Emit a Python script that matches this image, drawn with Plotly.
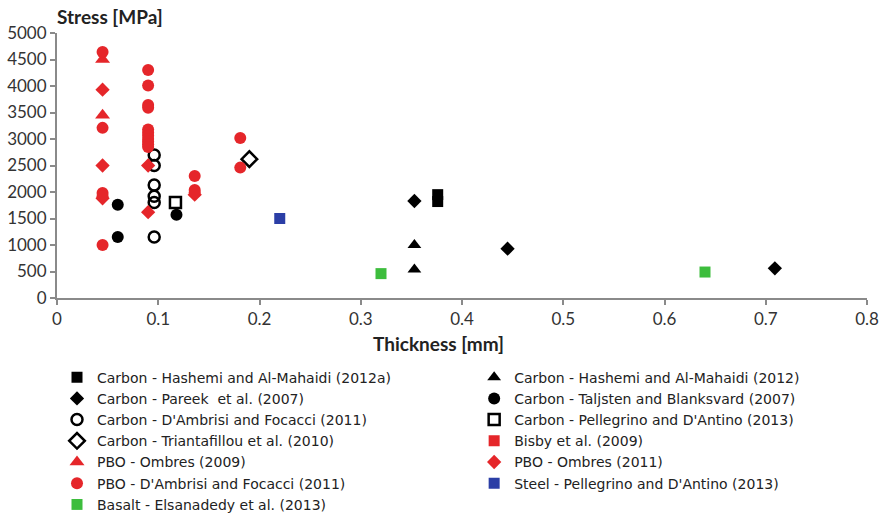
import plotly.graph_objects as go

# ---- data (thickness [mm], stress [MPa]) ----
hashemi12a_x = [0.376, 0.376]
hashemi12a_y = [1950, 1820]

hashemi12_x = [0.353, 0.353]
hashemi12_y = [1000, 540]

pareek_x = [0.353, 0.445, 0.709]
pareek_y = [1830, 930, 560]

taljsten_x = [0.060, 0.060, 0.118]
taljsten_y = [1760, 1150, 1570]

dambrisi_c_x = [0.096, 0.096, 0.096, 0.096, 0.096, 0.096]
dambrisi_c_y = [2700, 2500, 2130, 1920, 1800, 1150]

pellegrino_c_x = [0.117]
pellegrino_c_y = [1800]

triantafillou_x = [0.190]
triantafillou_y = [2620]

bisby_x = []
bisby_y = []

ombres09_x = [0.045, 0.045]
ombres09_y = [4500, 3450]

ombres11_x = [0.045, 0.045, 0.045, 0.090, 0.090, 0.136]
ombres11_y = [3930, 2500, 1880, 2500, 1620, 1950]

dambrisi_p_x = [0.045, 0.045, 0.045, 0.045, 0.045,
                0.090, 0.090, 0.090, 0.090, 0.090, 0.090, 0.090, 0.090, 0.090, 0.090, 0.090,
                0.136, 0.136, 0.136, 0.181, 0.181]
dambrisi_p_y = [4640, 3210, 1980, 1920, 1000,
                4300, 4010, 3640, 3590, 3180, 3120, 3060, 3000, 2950, 2900, 2850,
                2300, 2040, 1990, 3020, 2460]

steel_x = [0.220]
steel_y = [1500]

basalt_x = [0.320, 0.640]
basalt_y = [460, 490]

RED = "#e5262a"
BLACK = "#000000"
BLUE = "#2b3ea6"
GREEN = "#3dbd3d"

series = [
    # name, x, y, symbol, color, size, legend
    ("Carbon - Hashemi and Al-Mahaidi (2012a)", hashemi12a_x, hashemi12a_y, "square", BLACK, 11, "legend"),
    ("Carbon - Hashemi and Al-Mahaidi (2012)", hashemi12_x, hashemi12_y, "triangle-up", BLACK, 12, "legend2"),
    ("Carbon - Pareek  et al. (2007)", pareek_x, pareek_y, "diamond", BLACK, 11, "legend"),
    ("Carbon - Taljsten and Blanksvard (2007)", taljsten_x, taljsten_y, "circle", BLACK, 12, "legend2"),
    ("Carbon - D'Ambrisi and Focacci (2011)", dambrisi_c_x, dambrisi_c_y, "circle-open", BLACK, 11, "legend"),
    ("Carbon - Pellegrino and D'Antino (2013)", pellegrino_c_x, pellegrino_c_y, "square-open", BLACK, 11, "legend2"),
    ("Carbon - Triantafillou et al. (2010)", triantafillou_x, triantafillou_y, "diamond-open", BLACK, 12, "legend"),
    ("Bisby et al. (2009)", bisby_x, bisby_y, "square", RED, 11, "legend2"),
    ("PBO - Ombres (2009)", ombres09_x, ombres09_y, "triangle-up", RED, 13, "legend"),
    ("PBO - Ombres (2011)", ombres11_x, ombres11_y, "diamond", RED, 11, "legend2"),
    ("PBO - D'Ambrisi and Focacci (2011)", dambrisi_p_x, dambrisi_p_y, "circle", RED, 12, "legend"),
    ("Steel - Pellegrino and D'Antino (2013)", steel_x, steel_y, "square", BLUE, 11, "legend2"),
    ("Basalt - Elsanadedy et al. (2013)", basalt_x, basalt_y, "square", GREEN, 11, "legend"),
]

fig = go.Figure()
for name, xs, ys, sym, col, size, lg in series:
    is_open = sym.endswith("-open")
    xs_plot = xs if len(xs) else [None]
    ys_plot = ys if len(ys) else [None]
    fig.add_trace(go.Scatter(
        x=xs_plot, y=ys_plot, mode="markers", name=name, legend=lg,
        marker=dict(symbol=sym, color=col, size=size,
                    line=dict(width=2.5 if is_open else 0, color=col)),
    ))

FONT = "Lato"
LFONT = "DejaVu Sans"
TXT = "#222222"
axis_common = dict(showgrid=False, zeroline=False, showline=True, linecolor="#8a8a8a",
                   linewidth=2, ticks="outside", ticklen=5, tickcolor="#8a8a8a", tickwidth=1.5,
                   tickfont=dict(family=FONT, size=17, color="#333333"))

legend_common = dict(y=-0.24, yanchor="top", orientation="v", xanchor="left",
                     font=dict(family=LFONT, size=14, color=TXT), bgcolor="rgba(0,0,0,0)",
                     tracegroupgap=0, itemwidth=30)

fig.update_layout(
    width=883, height=516,
    margin=dict(l=57, r=16, t=33, b=218, autoexpand=False),
    paper_bgcolor="white", plot_bgcolor="white",
    font=dict(family=FONT, size=16, color=TXT),
    xaxis=dict(range=[0, 0.8], dtick=0.1, tick0=0, **axis_common),
    yaxis=dict(range=[0, 5000], dtick=500, tick0=0, **axis_common),
    legend=dict(x=0.0, **legend_common),
    legend2=dict(x=0.515, **legend_common),
    showlegend=True,
    annotations=[
        dict(text="<b>Stress [MPa]</b>", xref="paper", yref="paper", x=-0.003, y=1.0,
             xanchor="left", yanchor="bottom", yshift=3, showarrow=False,
             font=dict(family=FONT, size=19, color=TXT)),
        dict(text="<b>Thickness [mm]</b>", xref="paper", yref="paper", x=0.471, y=0,
             xanchor="center", yanchor="top", yshift=-32, showarrow=False,
             font=dict(family=FONT, size=19, color=TXT)),
    ],
)

fig.write_html("out.html")
